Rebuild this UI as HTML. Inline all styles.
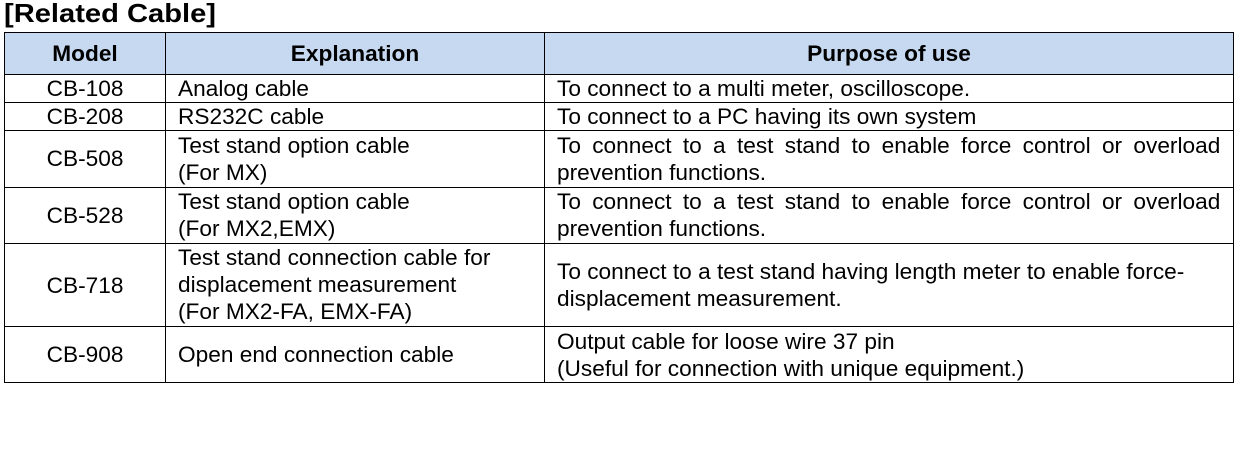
<!DOCTYPE html>
<html><head><meta charset="utf-8"><style>
body{margin:0;width:1243px;height:456px;background:#fff;position:relative;font-family:"Liberation Sans",Arial,sans-serif;color:#000;overflow:hidden}
.t{position:absolute;font-size:22px;line-height:27px;white-space:nowrap;transform:scaleX(1.03);transform-origin:0 0}
.h{position:absolute;background:#000}
.c{text-align:center;transform-origin:50% 0}
.j{white-space:normal;text-align:justify;text-align-last:left;width:644px}
</style></head><body>
<div class="t" style="left:4px;top:0px;font-weight:bold;font-size:26px;transform:scaleX(1.12)">[Related Cable]</div>
<div style="position:absolute;left:5px;top:33px;width:1228px;height:41px;background:#c6d9f1"></div>
<div class="h" style="left:4px;top:32px;width:1230px;height:1px"></div>
<div class="h" style="left:4px;top:74px;width:1230px;height:1px"></div>
<div class="h" style="left:4px;top:102px;width:1230px;height:1px"></div>
<div class="h" style="left:4px;top:130px;width:1230px;height:1px"></div>
<div class="h" style="left:4px;top:187px;width:1230px;height:1px"></div>
<div class="h" style="left:4px;top:243px;width:1230px;height:1px"></div>
<div class="h" style="left:4px;top:326px;width:1230px;height:1px"></div>
<div class="h" style="left:4px;top:382px;width:1230px;height:1px"></div>
<div class="h" style="left:4px;top:32px;width:1px;height:351px"></div>
<div class="h" style="left:165px;top:32px;width:1px;height:351px"></div>
<div class="h" style="left:544px;top:32px;width:1px;height:351px"></div>
<div class="h" style="left:1233px;top:32px;width:1px;height:351px"></div>
<div class="t c" style="left:5px;width:160px;top:40px;font-weight:bold">Model</div>
<div class="t c" style="left:166px;width:378px;top:40px;font-weight:bold">Explanation</div>
<div class="t c" style="left:545px;width:688px;top:40px;font-weight:bold">Purpose of use</div>

<div class="t c" style="left:5px;width:160px;top:75px">CB-108</div>
<div class="t" style="left:178px;top:75px">Analog cable</div>
<div class="t" style="left:557px;top:75px">To connect to a multi meter, oscilloscope.</div>

<div class="t c" style="left:5px;width:160px;top:103px">CB-208</div>
<div class="t" style="left:178px;top:103px">RS232C cable</div>
<div class="t" style="left:557px;top:103px">To connect to a PC having its own system</div>

<div class="t c" style="left:5px;width:160px;top:145px">CB-508</div>
<div class="t" style="left:178px;top:132px">Test stand option cable<br>(For MX)</div>
<div class="t j" style="left:557px;top:132px">To connect to a test stand to enable force control or overload prevention functions.</div>

<div class="t c" style="left:5px;width:160px;top:202px">CB-528</div>
<div class="t" style="left:178px;top:188px">Test stand option cable<br>(For MX2,EMX)</div>
<div class="t j" style="left:557px;top:188px">To connect to a test stand to enable force control or overload prevention functions.</div>

<div class="t c" style="left:5px;width:160px;top:272px">CB-718</div>
<div class="t" style="left:178px;top:244px">Test stand connection cable for<br>displacement measurement<br>(For MX2-FA, EMX-FA)</div>
<div class="t" style="left:557px;top:258px">To connect to a test stand having length meter to enable force-<br>displacement measurement.</div>

<div class="t c" style="left:5px;width:160px;top:341px">CB-908</div>
<div class="t" style="left:178px;top:341px">Open end connection cable</div>
<div class="t" style="left:557px;top:328px">Output cable for loose wire 37 pin<br>(Useful for connection with unique equipment.)</div>
</body></html>
